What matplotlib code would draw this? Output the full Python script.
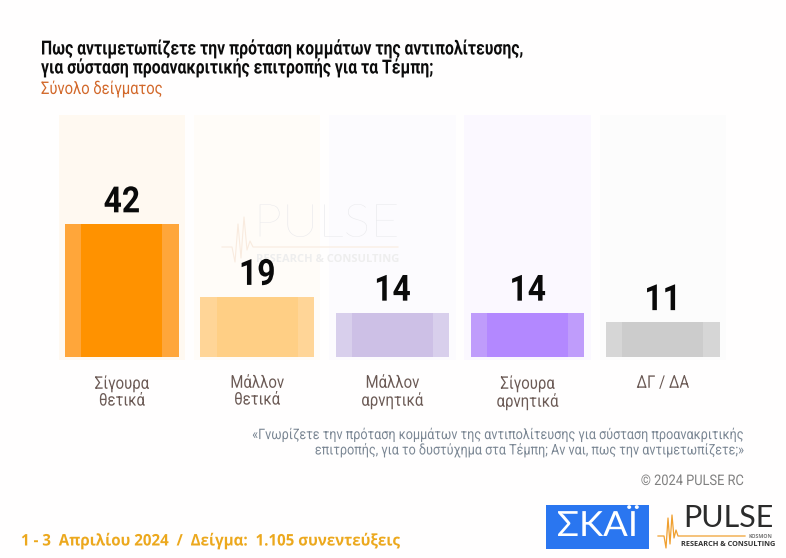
import matplotlib
matplotlib.use("Agg")
import matplotlib.pyplot as plt
from matplotlib.patches import Rectangle
from matplotlib.patheffects import AbstractPathEffect
from matplotlib.transforms import Affine2D

plt.rcParams['font.family'] = ['Roboto', 'DejaVu Sans']

W, H = 786, 558

categorias = ["Σίγουρα\nθετικά", "Μάλλον\nθετικά", "Μάλλον\nαρνητικά", "Σίγουρα\nαρνητικά", "ΔΓ / ΔΑ"]
valores = [42, 19, 14, 14, 11]
fondo = [76.7, 76.7, 76.7, 76.7, 76.7]

colores = ["#ff9200", "#ffcf85", "#cdc0e6", "#b388ff", "#cccccc"]
colores_lado = ["#ffa63a", "#ffd597", "#d8cfec", "#bf9cfb", "#d6d6d6"]
colores_fondo = ["#fff9f1", "#fffcf8", "#fcfbfe", "#fbf8ff", "#fcfcfc"]

titulo = ["Πως αντιμετωπίζετε την πρόταση κομμάτων της αντιπολίτευσης,",
          "για σύσταση προανακριτικής επιτροπής για τα Τέμπη;"]
subtitulo = "Σύνολο δείγματος"
nota = ["«Γνωρίζετε την πρόταση κομμάτων της αντιπολίτευσης για σύσταση προανακριτικής",
        "επιτροπής, για το δυστύχημα στα Τέμπη; Αν ναι, πως την αντιμετωπίζετε;»"]
copyright_txt = "© 2024 PULSE RC"
pie = "1 - 3  Απριλίου 2024  /  Δείγμα:  1.105 συνεντεύξεις"


class Estrecho(AbstractPathEffect):
    # squeezes a text sideways, no condensed font is installed
    def __init__(self, sx, ancla="left"):
        super().__init__()
        self.sx = sx
        self.ancla = ancla

    def draw_path(self, renderer, gc, tpath, affine, rgbFace=None):
        ext = tpath.get_extents()
        x0 = {"left": 0, "center": (ext.x0 + ext.x1) / 2, "right": ext.x1}[self.ancla]
        t = Affine2D().translate(-x0, 0).scale(self.sx, 1).translate(x0, 0)
        renderer.draw_path(gc, tpath, t + affine, rgbFace)


def estrecho(sx, ancla="left"):
    return [Estrecho(sx, ancla)]


fig = plt.figure(figsize=(W / 100, H / 100), dpi=100, facecolor="#fffefe")

# page layer in pixel coordinates, for texts and logos
pag = fig.add_axes([0, 0, 1, 1])
pag.set_xlim(0, W)
pag.set_ylim(H, 0)
pag.axis("off")

# chart layer: baseline at y=357, 3.155 px per point
ax = fig.add_axes([50 / W, 1 - 361 / H, 685 / W, 261 / H])
ax.patch.set_alpha(0)
ax.set_xlim(-0.532, 4.534)
ax.set_ylim(-4 / 3.155, 257 / 3.155)
ax.axis("off")

xs = list(range(len(valores)))
ax.bar(xs, [f + 1.0 for f in fondo], bottom=-1.0, width=0.935, color=colores_fondo, linewidth=0, zorder=1)
ax.bar(xs, valores, width=0.84, color=colores_lado, linewidth=0, zorder=2)
ax.bar(xs, valores, width=0.6, color=colores, linewidth=0, zorder=3)

for x, v in zip(xs, valores):
    ax.annotate(str(v), (x, v), xytext=(0, 3), textcoords="offset points", ha="center", va="bottom",
                fontsize=26, fontweight="bold", color="#0a0a0a", zorder=5,
                path_effects=estrecho(0.88, "center"))

for x, c in zip(xs, categorias):
    ax.annotate(c, (x, 0), xytext=(0, -13.5), textcoords="offset points", ha="center", va="top",
                fontsize=12.5, color="#6b5a55", linespacing=1.15, zorder=5,
                path_effects=estrecho(0.86, "center"))

# watermark, over the bars but under the numbers
ax.text(327, 224, "PULSE", fontsize=33, color="#e8e8eb", ha="center", va="center", family="Lato",
        fontweight="light", transform=pag.transData, zorder=4, path_effects=estrecho(1.1, "center"))
ax.plot([222, 232, 235, 238, 241, 244, 247, 250, 253, 398], [247, 247, 262, 224, 258, 217, 250, 241, 247, 247],
        color="#f9ebdf", lw=0.8, transform=pag.transData, zorder=4)
ax.text(327.5, 259, "RESEARCH & CONSULTING", fontsize=8, color="#eeeeee", ha="center", va="center",
        family="Open Sans", fontweight="bold", transform=pag.transData, zorder=4)

# titles
pag.text(41, 49, titulo[0], fontsize=14, fontweight="bold", color="#0c0c0c", va="center",
         path_effects=estrecho(0.81))
pag.text(41, 68, titulo[1], fontsize=14, fontweight="bold", color="#0c0c0c", va="center",
         path_effects=estrecho(0.81))
pag.text(41, 89, subtitulo, fontsize=12.5, color="#d2682a", va="center", path_effects=estrecho(0.85))

# note
pag.text(746.5, 435, nota[0], fontsize=10.5, color="#7b8794", ha="right", va="center",
         path_effects=estrecho(0.865, "right"))
pag.text(746.5, 450, nota[1], fontsize=10.5, color="#7b8794", ha="right", va="center",
         path_effects=estrecho(0.865, "right"))
pag.text(744, 481, copyright_txt, fontsize=10.5, color="#808080", ha="right", va="center",
         path_effects=estrecho(0.88, "right"))

# footer
pag.text(21, 541, pie, fontsize=11.5, fontweight="bold", color="#eca81d", va="center", family="Open Sans",
         path_effects=estrecho(0.945))

# logos
pag.add_patch(Rectangle((546, 505), 103, 44, facecolor="#2a76f0", edgecolor="none"))
pag.text(597.5, 526, "ΣΚΑΪ", fontsize=25, color="white", ha="center", va="center", family="Lato",
         path_effects=estrecho(1.05, "center"))
pag.plot([658, 664, 666, 668, 670, 672, 674, 676, 678, 745], [536, 536, 548, 518, 544, 515, 538, 530, 536, 536],
         color="#f0a030", lw=0.9)
pag.text(728, 518, "PULSE", fontsize=22, color="#2b2b2b", ha="center", va="center", family="Lato")
pag.text(760, 536, "KOSMON", fontsize=3.8, color="#777777", ha="center", va="center",
         family="Open Sans", fontweight="bold")
pag.text(728, 544, "RESEARCH & CONSULTING", fontsize=5.3, color="#333333", ha="center", va="center",
         family="Open Sans", fontweight="bold")

fig.savefig("out.png", dpi=100, facecolor=fig.get_facecolor())
